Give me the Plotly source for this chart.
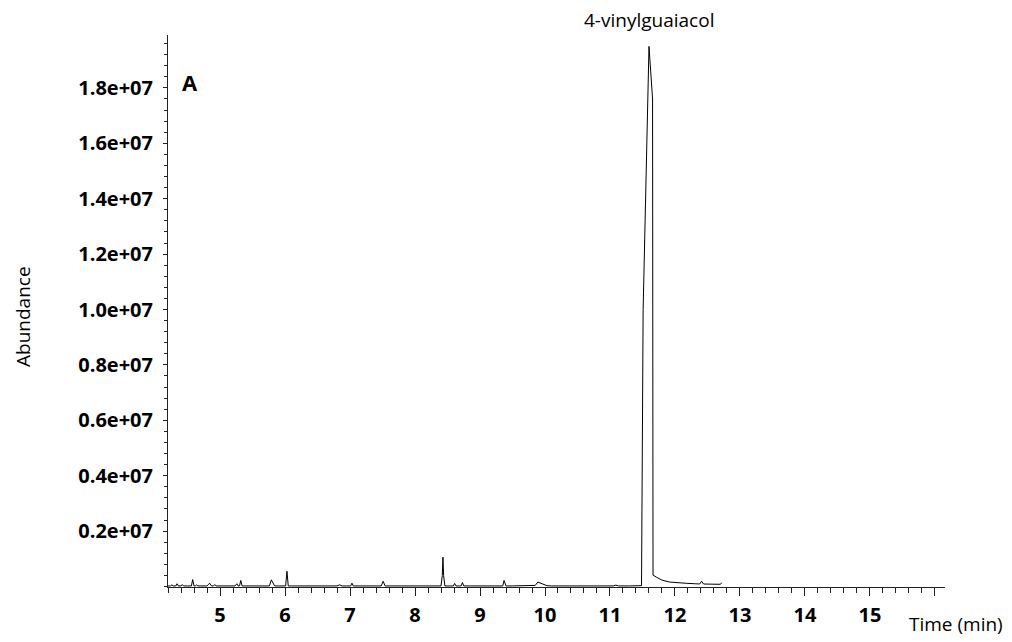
import plotly.graph_objects as go

# Retention time (min) and abundance
time_min = [4.20, 4.24, 4.26, 4.28, 4.32, 4.34, 4.36, 4.40, 4.42, 4.44, 4.50, 4.56, 4.58, 4.60,
            4.62, 4.64, 4.66, 4.72, 4.80, 4.84, 4.87, 4.90, 4.92, 4.94, 5.00, 5.06, 5.08, 5.10,
            5.13, 5.15, 5.17, 5.23, 5.26, 5.28, 5.30, 5.32, 5.34, 5.40, 5.50, 5.60, 5.70, 5.76,
            5.79, 5.82, 5.84, 5.90, 5.98, 6.01, 6.03, 6.05, 6.10, 6.20, 6.30, 6.42, 6.44, 6.46,
            6.60, 6.70, 6.80, 6.84, 6.88, 6.95, 7.01, 7.03, 7.05, 7.20, 7.30, 7.40, 7.48, 7.51,
            7.54, 7.60, 7.70, 7.80, 7.88, 7.90, 7.92, 8.00, 8.10, 8.20, 8.30, 8.40, 8.42, 8.43,
            8.44, 8.46, 8.55, 8.59, 8.61, 8.63, 8.68, 8.71, 8.73, 8.75, 8.85, 9.00, 9.13, 9.15,
            9.17, 9.25, 9.32, 9.35, 9.37, 9.40, 9.50, 9.60, 9.70, 9.80, 9.85, 9.89, 9.93, 9.98,
            10.03, 10.10, 10.30, 10.50, 10.70, 10.90, 11.05, 11.09, 11.13, 11.30, 11.45, 11.485,
            11.51, 11.60, 11.655, 11.662, 11.72, 11.80, 11.92, 12.05, 12.18, 12.30, 12.38, 12.41,
            12.44, 12.55, 12.65, 12.70, 12.72]
abundance = [2e4, 2e4, 6e4, 2e4, 2e4, 1.0e5, 2e4, 2e4, 7e4, 2e4, 2e4, 2e4, 2.5e5, 2e4,
             2e4, 6e4, 2e4, 2e4, 2e4, 1.2e5, 2e4, 2e4, 7e4, 2e4, 2e4, 2e4, 4e4, 2e4,
             2e4, 4e4, 2e4, 2e4, 1.0e5, 2e4, 2e4, 2.2e5, 2e4, 2e4, 2e4, 2e4, 2e4, 2e4,
             2.4e5, 1.0e5, 2e4, 2e4, 2e4, 2e4, 5.5e5, 2e4, 2e4, 2e4, 2e4, 2e4, 3e4, 2e4,
             2e4, 2e4, 2e4, 6e4, 2e4, 2e4, 2e4, 1.2e5, 2e4, 2e4, 2e4, 2e4, 2e4, 1.9e5,
             2e4, 2e4, 2e4, 2e4, 2e4, 4e4, 2e4, 2e4, 2e4, 2e4, 2e4, 2e4, 4e5, 1.06e6,
             4e5, 2e4, 2e4, 2e4, 1.1e5, 2e4, 2e4, 2e4, 1.45e5, 2e4, 2e4, 2e4, 2e4, 3e4,
             2e4, 2e4, 2e4, 2e4, 2.2e5, 2e4, 2e4, 2e4, 2e4, 2e4, 4e4, 1.6e5, 1.2e5, 6e4,
             3e4, 2e4, 2e4, 2e4, 2e4, 2e4, 2e4, 5e4, 2e4, 2e4, 2e4, 3e4,
             1.0e7, 1.95e7, 1.76e7, 4.1e5, 3.3e5, 2.3e5, 1.6e5, 1.3e5, 1.15e5, 1.0e5, 9e4, 1.9e5,
             9e4, 8.5e4, 8e4, 8e4, 1.4e5]

x_tick_vals = [5, 6, 7, 8, 9, 10, 11, 12, 13, 14, 15, 16]
x_tick_text = ["5", "6", "7", "8", "9", "10", "11", "12", "13", "14", "15", ""]
y_tick_vals = [2e6, 4e6, 6e6, 8e6, 1e7, 1.2e7, 1.4e7, 1.6e7, 1.8e7]
y_tick_text = ["0.2e+07", "0.4e+07", "0.6e+07", "0.8e+07", "1.0e+07",
               "1.2e+07", "1.4e+07", "1.6e+07", "1.8e+07"]

peak_label = "4-vinylguaiacol"
panel_label = "A"
x_title = "Time (min)"
y_title = "Abundance"

L, R, T, B = 168, 67, 35, 55
W, H = 1012, 642
pw, ph = W - L - R, H - T - B

def px_x(p):
    return (p - L) / pw

def px_y(p):
    return (H - B - p) / ph

fig = go.Figure()
fig.add_trace(go.Scatter(x=time_min, y=abundance, mode="lines",
                         line=dict(color="black", width=1), hoverinfo="skip",
                         showlegend=False))

fig.update_layout(
    width=W, height=H,
    margin=dict(l=L, r=R, t=T, b=B, autoexpand=False),
    paper_bgcolor="white", plot_bgcolor="white",
    font=dict(family="Open Sans", color="black"),
    xaxis=dict(range=[4.2, 16.154], showgrid=False, zeroline=False,
               showline=True, linecolor="#222", linewidth=1,
               ticks="outside", ticklen=8, tickcolor="#222", tickwidth=1,
               tickvals=x_tick_vals, ticktext=x_tick_text,
               ticklabelstandoff=2,
               tickfont=dict(family="Open Sans", size=20, color="black", weight="bold"),
               minor=dict(dtick=0.2, tick0=0, ticks="outside", ticklen=5,
                          tickcolor="#222", tickwidth=1, showgrid=False)),
    yaxis=dict(range=[-1.8e4, 1.991e7], showgrid=False, zeroline=False,
               showline=True, linecolor="#222", linewidth=1,
               ticks="outside", ticklen=4, tickcolor="#222", tickwidth=1,
               tickvals=y_tick_vals, ticktext=y_tick_text,
               ticklabelstandoff=6,
               tickfont=dict(family="Open Sans", size=20, color="black", weight="bold"),
               minor=dict(dtick=4e5, tick0=0, ticks="outside", ticklen=3,
                          tickcolor="#222", tickwidth=1, showgrid=False)),
)

fig.add_annotation(x=11.6, xref="x", y=px_y(20), yref="paper", text=peak_label,
                   showarrow=False, font=dict(family="Open Sans", size=19, color="black"),
                   xanchor="center", yanchor="middle")
fig.add_annotation(x=px_x(190), xref="paper", y=px_y(82), yref="paper", text=panel_label,
                   showarrow=False,
                   font=dict(family="Open Sans", size=22, color="black", weight="bold"),
                   xanchor="center", yanchor="middle")
fig.add_annotation(x=px_x(956), xref="paper", y=px_y(624), yref="paper", text=x_title,
                   showarrow=False, font=dict(family="Open Sans", size=19, color="black"),
                   xanchor="center", yanchor="middle")
fig.add_annotation(x=px_x(23), xref="paper", y=px_y(317), yref="paper", text=y_title,
                   showarrow=False, textangle=-90,
                   font=dict(family="Open Sans", size=19, color="black"),
                   xanchor="center", yanchor="middle")

fig.write_html("out.html")
